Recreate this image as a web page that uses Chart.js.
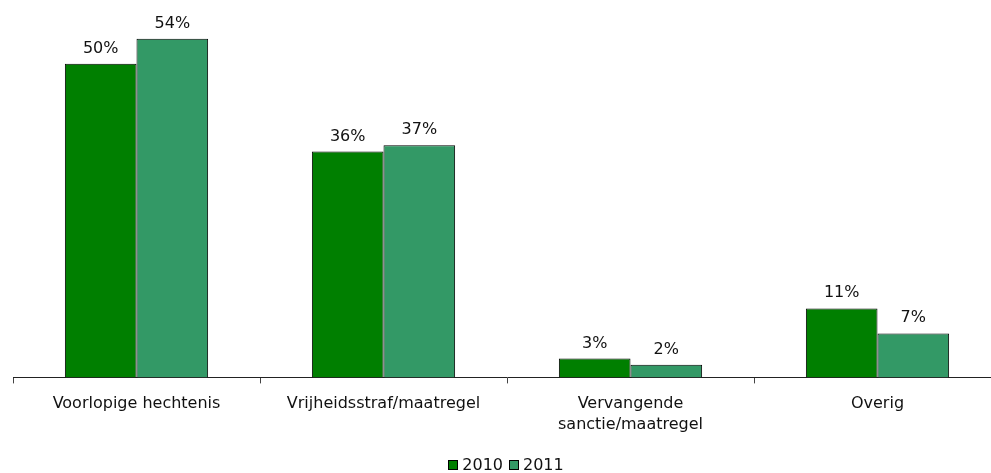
<!DOCTYPE html>
<html><head><meta charset="utf-8">
<script src="https://cdn.jsdelivr.net/npm/chart.js@4/dist/chart.umd.min.js"></script>
<style>
html,body{margin:0;padding:0;overflow:hidden;background:#fff;}
#wrap{position:absolute;left:0;top:0;width:1010px;height:473px;}
#legend{position:absolute;left:0;width:1012px;top:455px;height:18px;text-align:center;font:16px 'DejaVu Sans',Verdana,sans-serif;color:#111;white-space:nowrap;}
#legend span.item{display:inline-block;margin:0 3px;}
#legend span.box{display:inline-block;width:8px;height:8px;border:1px solid #000;margin-right:4px;vertical-align:0px;}
</style></head><body>
<div id="wrap"><canvas id="c"></canvas></div>
<div id="legend"></div>
<script>
const categories = [["Voorlopige hechtenis"], ["Vrijheidsstraf/maatregel"], ["Vervangende", "sanctie/maatregel"], ["Overig"]];
const seriesNames = ["2010", "2011"];
const values2010 = [50, 36, 3, 11];
const values2011 = [54, 37, 2, 7];
const colors = ["#007f00", "#339966"];

const FONT = "'DejaVu Sans', Verdana, sans-serif";

const labelPlugin = {
  id: 'barLabels',
  afterDatasetsDraw(chart) {
    const ctx = chart.ctx;
    ctx.save();
    ctx.font = "16px " + FONT;
    ctx.fillStyle = "#111";
    ctx.textAlign = "center";
    ctx.textBaseline = "alphabetic";
    chart.data.datasets.forEach((ds, di) => {
      const meta = chart.getDatasetMeta(di);
      meta.data.forEach((bar, i) => {
        ctx.fillText(ds.data[i] + "%", bar.x, bar.y - 11);
      });
    });
    ctx.restore();
  }
};

const chart = new Chart(document.getElementById('c'), {
  type: 'bar',
  data: {
    labels: categories,
    datasets: [
      { label: seriesNames[0], data: values2010, backgroundColor: colors[0], borderColor: "#000", borderWidth: 1, categoryPercentage: 0.58, barPercentage: 1 },
      { label: seriesNames[1], data: values2011, backgroundColor: colors[1], borderColor: "#000", borderWidth: 1, categoryPercentage: 0.58, barPercentage: 1 }
    ]
  },
  options: {
    responsive: true,
    maintainAspectRatio: false,
    animation: false,
    layout: { padding: { left: 13, right: 9, top: 1, bottom: 28 } },
    scales: {
      x: {
        grid: { display: true, drawOnChartArea: false, drawTicks: true, tickLength: 6, color: "#444", offset: true },
        border: { display: true, color: "#222", width: 1 },
        ticks: { color: "#111", font: { family: FONT, size: 16, lineHeight: 1.3 }, padding: 10, maxRotation: 0, autoSkip: false }
      },
      y: {
        display: false,
        min: 0, max: 60
      }
    },
    plugins: {
      legend: { display: false },
      tooltip: { enabled: false }
    }
  },
  plugins: [labelPlugin]
});

const legendEl = document.getElementById('legend');
chart.data.datasets.forEach((ds) => {
  const item = document.createElement('span');
  item.className = 'item';
  const box = document.createElement('span');
  box.className = 'box';
  box.style.background = ds.backgroundColor;
  item.appendChild(box);
  item.appendChild(document.createTextNode(ds.label));
  legendEl.appendChild(item);
});
</script>
</body></html>
